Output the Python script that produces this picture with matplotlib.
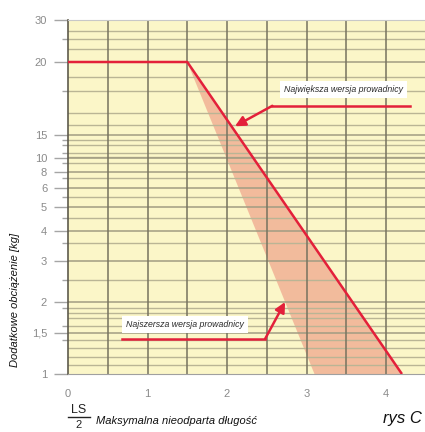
import numpy as np
import matplotlib
matplotlib.use("Agg")
import matplotlib.pyplot as plt

plt.rcParams['font.family'] = ['Liberation Sans', 'DejaVu Sans']

# ---- data ----
x_ticks = [0, 1, 2, 3, 4]
y_tick_vals = [1, 1.5, 2, 3, 4, 5, 6, 8, 10, 15, 20, 30]
y_tick_labels = ["1", "1,5", "2", "3", "4", "5", "6", "8", "10", "15", "20", "30"]
# relative position of each labelled value on the printed (non-uniform) axis
y_tick_axpos = [0.0, 0.1157, 0.2031, 0.3188, 0.4034, 0.4711, 0.5247, 0.5698, 0.6093, 0.6742, 0.8801, 1.0]
y_minor_vals = [27.4, 25.4, 23.1, 19, 18, 16.5, 15.7, 13.9, 12.8, 11.15, 10.3, 9.3,
                7.25, 5.55, 4.55, 3.6, 2.54, 1.9, 1.82, 1.74, 1.61, 1.415, 1.32, 1.21, 1.11]
y_minor_ticked = [25.4, 18, 13.9, 12.8, 11.15, 9.3, 7.25, 5.55, 4.55, 3.6, 2.54, 1.9, 1.61, 1.415]

# largest guide version (red line)
big_x = [0, 1.5, 4.2]
big_y = [20, 20, 1]
# narrowest guide version (shaded band)
band_x = [1.5, 3.1, 4.2]
band_y = [20, 1, 1]

red = '#E3203A'
yellow = '#FBF6C8'

def fwd(v):
    return np.interp(v, y_tick_vals, y_tick_axpos)

def inv(p):
    return np.interp(p, y_tick_axpos, y_tick_vals)

fig = plt.figure(figsize=(4.25, 4.32), dpi=100)
ax = fig.add_axes([68/425, (432-374)/432, (425-68)/425, (374-19.5)/432])
ax.set_yscale('function', functions=(fwd, inv))
ax.set_facecolor(yellow)
ax.set_xlim(0, 4.49)
ax.set_ylim(1, 30)

# grid
for v in y_minor_vals:
    ax.axhline(v, color='#BAB595', lw=1.0, zorder=1)
for v in y_tick_vals[1:-1]:
    ax.axhline(v, color='#A19C82', lw=1.1, zorder=1)
for xv in np.arange(0.5, 4.01, 0.5):
    ax.axvline(xv, color='#77735F', lw=1.1, zorder=1)

# band and line
ax.fill(band_x, band_y, color='#F0A88E', alpha=0.75, lw=0, zorder=0.8)
ax.plot(big_x, big_y, color=red, lw=1.8, zorder=3, solid_capstyle='butt')

# ticks
ax.set_xticks(x_ticks)
ax.set_xticklabels([str(t) for t in x_ticks])
ax.set_yticks(y_tick_vals)
ax.set_yticklabels(y_tick_labels)
ax.set_yticks(y_minor_ticked, minor=True)
ax.tick_params(axis='x', length=0, pad=11, labelsize=8, labelcolor='#8A8A8A')
ax.tick_params(axis='y', which='major', length=10, width=1.0, color='#A5A5A5',
               pad=5, labelsize=8, labelcolor='#8A8A8A')
ax.tick_params(axis='y', which='minor', length=4, width=1.0, color='#A5A5A5')

ax.spines['right'].set_visible(False)
ax.spines['left'].set_color('#5E5A4C')
ax.spines['left'].set_linewidth(1.2)
ax.spines['top'].set_color('#C8C8C8')
ax.spines['bottom'].set_color('#A0A0A0')

# annotations
txt_kw = dict(fontsize=6.3, style='italic', color='#2A2A2A', ha='center', va='center',
              bbox=dict(boxstyle='square,pad=0.45', fc='white', ec='none'), zorder=5)
ax.text(3.47, 18.1, "Największa wersja prowadnicy", **txt_kw)
ax.plot([4.3, 2.57], [17.0, 17.0], color=red, lw=1.8, zorder=4)
ax.annotate("", xy=(2.1, 15.6), xytext=(2.57, 17.0),
            arrowprops=dict(arrowstyle='-|>', color=red, lw=1.8, mutation_scale=15,
                            shrinkA=0, shrinkB=0), zorder=4)

ax.text(1.47, 1.63, "Najszersza wersja prowadnicy", **txt_kw)
ax.plot([0.68, 2.48], [1.43, 1.43], color=red, lw=1.8, zorder=4)
ax.annotate("", xy=(2.73, 2.0), xytext=(2.48, 1.43),
            arrowprops=dict(arrowstyle='-|>', color=red, lw=1.8, mutation_scale=15,
                            shrinkA=0, shrinkB=0), zorder=4)

# axis labels
fig.text(15/425, 1-300/432, "Dodatkowe obciążenie [kg]", rotation=90, ha='center', va='center',
         fontsize=8, style='italic', color='#111111')
fig.text(79/425, 1-410/432, "LS", ha='center', va='center', fontsize=9, color='#222222')
fig.add_artist(plt.Line2D([68/425, 90/425], [1-417/432, 1-417/432], color='#222222', lw=1.0))
fig.text(79/425, 1-425/432, "2", ha='center', va='center', fontsize=8, color='#222222')
fig.text(96/425, 1-421/432, "Maksymalna nieodparta długość", ha='left', va='center',
         fontsize=8, style='italic', color='#111111')
fig.text(402/425, 1-418/432, "rys C", ha='center', va='center',
         fontsize=12, style='italic', color='#111111')

fig.savefig("out.png", dpi=100)
